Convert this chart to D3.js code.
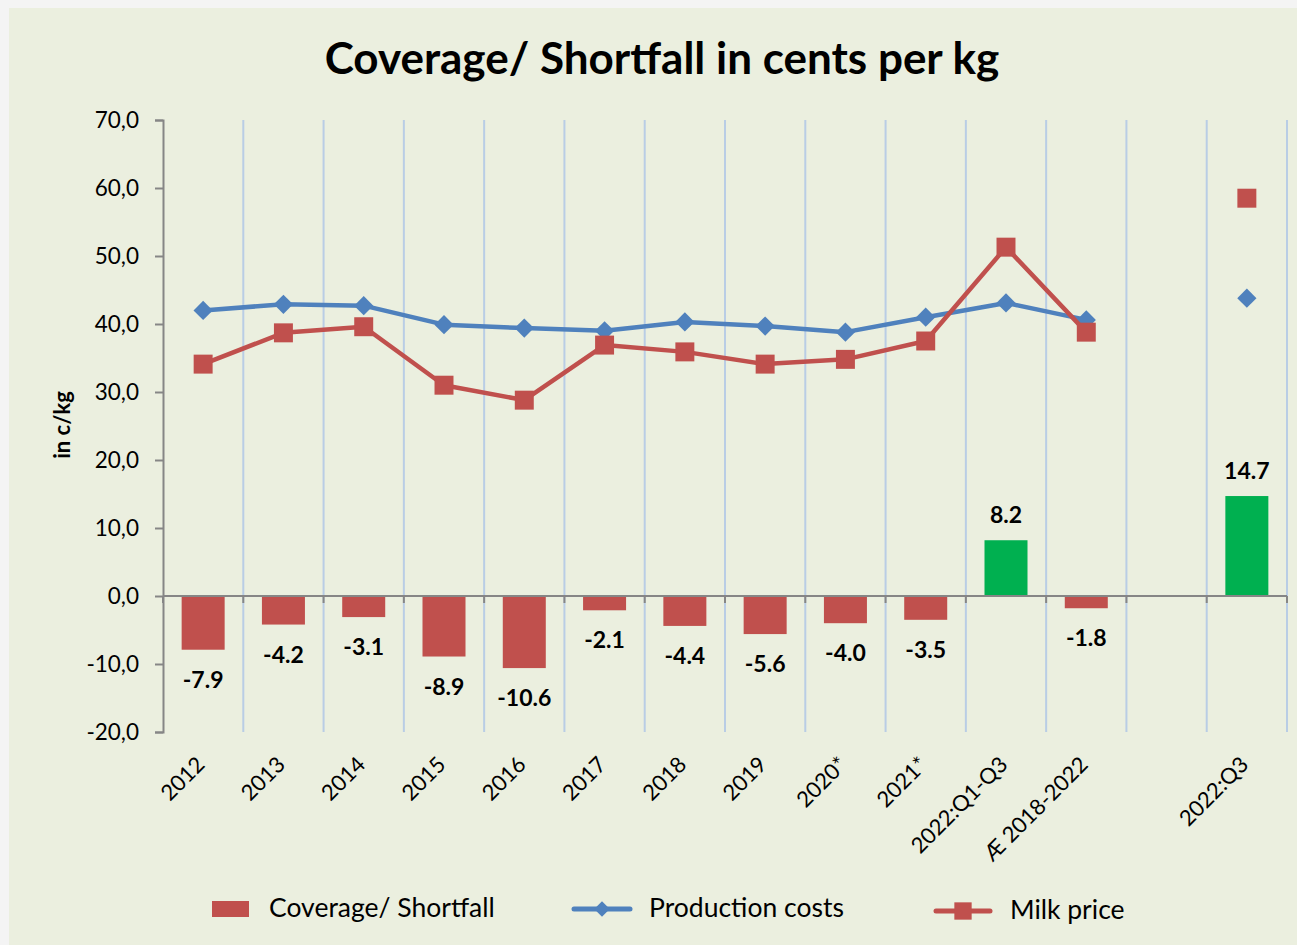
<!DOCTYPE html>
<html>
<head>
<meta charset="utf-8">
<script src="https://cdn.jsdelivr.net/npm/d3@7"></script>
<style>
  html, body { margin: 0; padding: 0; background: #f4f4f4; }
  svg { display: block; }
  text { font-family: Lato, "Open Sans", sans-serif; fill: #000; }
</style>
</head>
<body>
<div id="chart"></div>
<script>
// categories and series
const categories = ['2012', '2013', '2014', '2015', '2016', '2017', '2018', '2019',
  '2020*', '2021*', '2022:Q1-Q3', 'Æ 2018-2022', '', '2022:Q3'];
const productionCosts = [42.0, 42.9, 42.7, 39.9, 39.4, 39.0, 40.3, 39.7, 38.8, 41.0, 43.1, 40.6, null, 43.8];
const milkPrice = [34.1, 38.7, 39.6, 31.0, 28.8, 36.9, 35.9, 34.1, 34.8, 37.5, 51.3, 38.8, null, 58.5];
const coverage = [-7.9, -4.2, -3.1, -8.9, -10.6, -2.1, -4.4, -5.6, -4.0, -3.5, 8.2, -1.8, null, 14.7];
const yTicks = [-20, -10, 0, 10, 20, 30, 40, 50, 60, 70];

const W = 1297, H = 945;
const margin = {top: 120, right: 10, bottom: 213, left: 163};

const svg = d3.select('#chart').append('svg')
  .attr('width', W).attr('height', H);

// chart area background
svg.append('rect')
  .attr('x', 9).attr('y', 8).attr('width', W - 9).attr('height', H - 8)
  .attr('fill', '#ebefdf');

const x = d3.scaleBand()
  .domain(d3.range(categories.length))
  .range([margin.left, W - margin.right])
  .padding(0);

const y = d3.scaleLinear()
  .domain([-20, 70])
  .range([H - margin.bottom, margin.top]);

const cx = i => x(i) + x.bandwidth() / 2;

// title
svg.append('text')
  .attr('x', 662).attr('y', 74)
  .attr('text-anchor', 'middle')
  .style('font-size', '44px').style('font-weight', 'bold')
  .text('Coverage/ Shortfall in cents per kg');

// vertical gridlines at category borders
svg.append('g').selectAll('line')
  .data(d3.range(1, categories.length + 1))
  .join('line')
  .attr('x1', i => x(0) + i * x.step()).attr('x2', i => x(0) + i * x.step())
  .attr('y1', y(70)).attr('y2', y(-20))
  .attr('stroke', '#b9cde5').attr('stroke-width', 2);

// y axis
const yAxis = svg.append('g')
  .attr('transform', `translate(${margin.left},0)`)
  .call(d3.axisLeft(y).tickValues(yTicks).tickSize(8).tickPadding(16)
    .tickFormat(d => d3.format('.1f')(d).replace('.', ',').replace('−', '-')));
yAxis.select('.domain').attr('stroke', '#868686').attr('stroke-width', 2);
yAxis.selectAll('.tick line').attr('stroke', '#868686').attr('stroke-width', 2);
yAxis.selectAll('.tick text')
  .style('font-size', '22.5px').style('font-family', 'Lato, sans-serif');

// y axis title
svg.append('text')
  .attr('transform', 'translate(70,425) rotate(-90)')
  .attr('text-anchor', 'middle')
  .style('font-size', '22px').style('font-weight', 'bold')
  .text('in c/kg');

// bars
const barW = 43;
svg.append('g').selectAll('rect')
  .data(coverage.map((v, i) => ({v, i})).filter(d => d.v !== null))
  .join('rect')
  .attr('x', d => cx(d.i) - barW / 2)
  .attr('y', d => y(Math.max(0, d.v)))
  .attr('width', barW)
  .attr('height', d => Math.abs(y(d.v) - y(0)))
  .attr('fill', d => d.v >= 0 ? '#00b050' : '#c0504d');

// zero axis line with ticks
svg.append('line')
  .attr('x1', margin.left).attr('x2', W - margin.right)
  .attr('y1', y(0)).attr('y2', y(0))
  .attr('stroke', '#868686').attr('stroke-width', 2);
svg.append('g').selectAll('line')
  .data(d3.range(0, categories.length + 1))
  .join('line')
  .attr('x1', i => x(0) + i * x.step()).attr('x2', i => x(0) + i * x.step())
  .attr('y1', y(0)).attr('y2', y(0) + 7)
  .attr('stroke', '#868686').attr('stroke-width', 2);

// bar labels
svg.append('g').selectAll('text')
  .data(coverage.map((v, i) => ({v, i})).filter(d => d.v !== null))
  .join('text')
  .attr('x', d => cx(d.i))
  .attr('y', d => d.v >= 0 ? y(d.v) - 17 : y(d.v) + 38)
  .attr('text-anchor', 'middle')
  .style('font-size', '23px').style('font-weight', 'bold')
  .text(d => d3.format('.1f')(d.v).replace('−', '-'));

// lines
const line = d3.line()
  .defined(d => d.v !== null)
  .x(d => cx(d.i)).y(d => y(d.v));

function drawSeries(values, color, shape) {
  const pts = values.map((v, i) => ({v, i}));
  svg.append('path')
    .datum(pts)
    .attr('d', line)
    .attr('fill', 'none')
    .attr('stroke', color).attr('stroke-width', 4.5)
    .attr('stroke-linejoin', 'round');
  svg.append('g').selectAll('path')
    .data(pts.filter(d => d.v !== null))
    .join('path')
    .attr('transform', d => `translate(${cx(d.i)},${y(d.v)})` + (shape === 'square' ? '' : ' rotate(45)'))
    .attr('d', d3.symbol().type(d3.symbolSquare).size(shape === 'square' ? 360 : 185))
    .attr('fill', color);
}
drawSeries(productionCosts, '#4f81bd', 'diamond');
drawSeries(milkPrice, '#c0504d', 'square');

// x labels
svg.append('g').selectAll('text')
  .data(categories.map((c, i) => ({c, i})))
  .join('text')
  .attr('transform', d => `translate(${cx(d.i) + 3},${y(-20) + 34}) rotate(-45)`)
  .attr('text-anchor', 'end')
  .style('font-size', '22px').style('font-family', 'Lato, sans-serif')
  .text(d => d.c);

// legend
const legY = 909;
const leg = svg.append('g');
leg.append('rect').attr('x', 212).attr('y', legY - 8).attr('width', 37).attr('height', 16)
  .attr('fill', '#c0504d');
leg.append('text').attr('x', 269).attr('y', legY + 8)
  .style('font-size', '26.5px').text('Coverage/ Shortfall');

leg.append('line').attr('x1', 574).attr('x2', 630).attr('y1', legY).attr('y2', legY)
  .attr('stroke', '#4f81bd').attr('stroke-width', 5).attr('stroke-linecap', 'round');
leg.append('path').attr('transform', `translate(602,${legY}) rotate(45)`)
  .attr('d', d3.symbol().type(d3.symbolSquare).size(120)).attr('fill', '#4f81bd');
leg.append('text').attr('x', 649).attr('y', legY + 8)
  .style('font-size', '26.5px').text('Production costs');

leg.append('line').attr('x1', 936).attr('x2', 990).attr('y1', legY + 2).attr('y2', legY + 2)
  .attr('stroke', '#c0504d').attr('stroke-width', 5).attr('stroke-linecap', 'round');
leg.append('path').attr('transform', `translate(963,${legY + 2})`)
  .attr('d', d3.symbol().type(d3.symbolSquare).size(300)).attr('fill', '#c0504d');
leg.append('text').attr('x', 1010).attr('y', legY + 10)
  .style('font-size', '26.5px').text('Milk price');
</script>
</body>
</html>
